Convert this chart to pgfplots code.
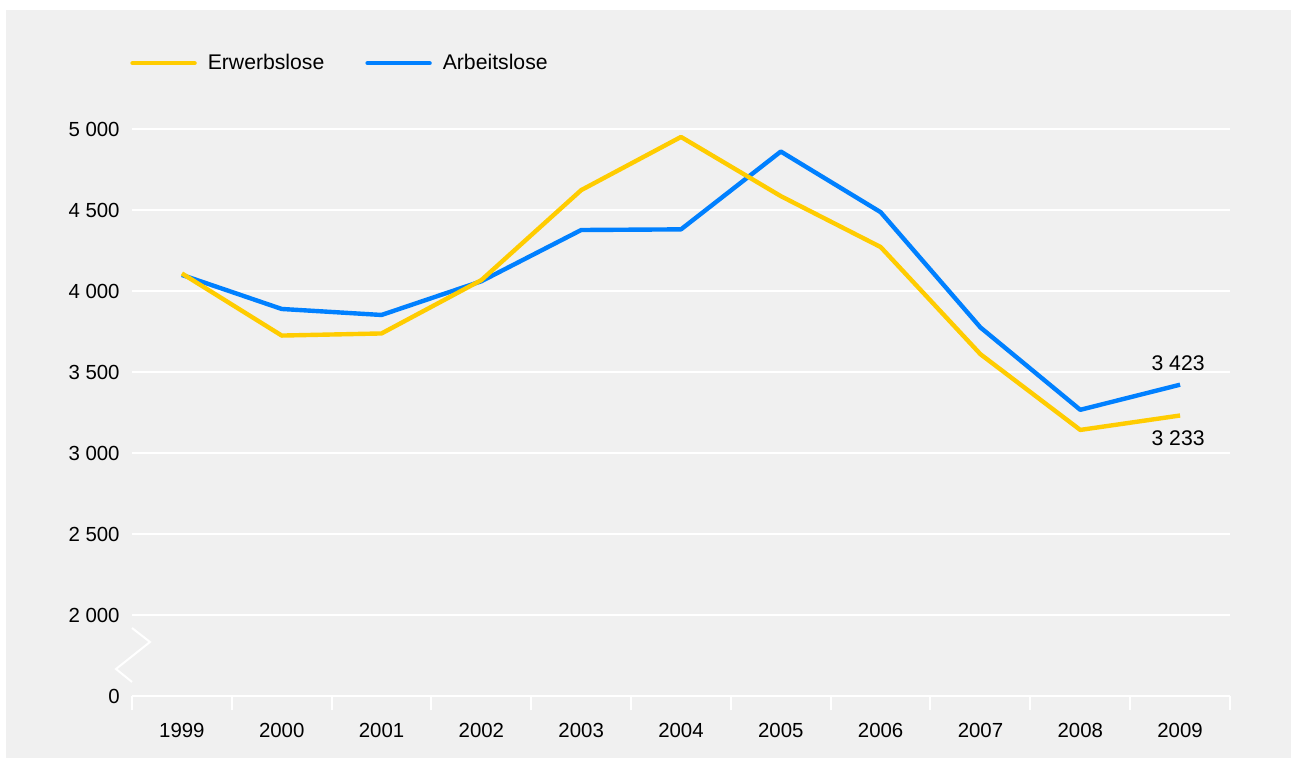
\documentclass[border=0pt]{standalone}
\usepackage{fontspec}
\setmainfont{Liberation Sans}
\usepackage{pgfplots}
\pgfplotsset{compat=1.18}

\definecolor{bggray}{HTML}{F0F0F0}
\definecolor{gelb}{HTML}{FFCC00}
\definecolor{blau}{HTML}{0080FF}
\newcommand{\lblfont}{\fontsize{10.2}{12}\selectfont}
\newcommand{\legfont}{\fontsize{10.6}{12}\selectfont}

\begin{document}
\begin{tikzpicture}
% page and panel (1 px = 0.5pt)
\fill[white] (0,0) rectangle (645.5pt,379pt);
\fill[bggray] (3pt,0pt) rectangle (645.5pt,374pt);

\begin{axis}[
    at={(66pt,30.75pt)}, anchor=south west,
    scale only axis,
    width=549pt, height=283.75pt,
    xmin=1998.5, xmax=2009.5,
    ymin=1500, ymax=5000,
    clip=false,
    axis x line=bottom, axis y line=left,
    x axis line style={-, white, line width=1pt},
    y axis line style={draw=none},
    xtick={1999,2000,2001,2002,2003,2004,2005,2006,2007,2008,2009},
    xticklabels={1999,2000,2001,2002,2003,2004,2005,2006,2007,2008,2009},
    minor xtick={1998.5,1999.5,...,2009.5},
    ytick={1500,2000,2500,3000,3500,4000,4500,5000},
    yticklabels={0,2~000,2~500,3~000,3~500,4~000,4~500,5~000},
    major tick length=0pt, minor tick length=7pt, tick align=outside,
    minor tick style={white, line width=1pt},
    ymajorgrids, grid style={white, line width=1pt},
    every tick label/.append style={font=\lblfont, black},
    xticklabel style={anchor=north, inner sep=0pt, yshift=-13pt},
    yticklabel style={anchor=east, inner sep=0pt, xshift=-6pt},
    legend columns=2,
    legend style={at={(axis description cs:-0.0015,1.116)}, anchor=west,
        draw=none, fill=none, inner sep=0pt, outer sep=0pt,
        nodes={inner sep=0pt, font=\legfont},
        /tikz/every odd column/.append style={column sep=5.5pt},
        /tikz/every even column/.append style={column sep=20.5pt}},
    legend image code/.code={\draw[#1, line cap=round] (0pt,0pt) -- (31pt,0pt);},
]
    \addlegendimage{gelb, line width=2.2pt}
    \addlegendentry{Erwerbslose}

    % Arbeitslose (in 1000)
    \addplot[blau, line width=2.2pt, line join=round] coordinates {
        (1999,4100) (2000,3890) (2001,3853) (2002,4061) (2003,4377) (2004,4381)
        (2005,4861) (2006,4487) (2007,3776) (2008,3268) (2009,3423)};
    \addlegendentry{Arbeitslose}

    % Erwerbslose (in 1000)
    \addplot[gelb, line width=2.2pt, line join=round, forget plot] coordinates {
        (1999,4109) (2000,3726) (2001,3739) (2002,4068) (2003,4623) (2004,4951)
        (2005,4586) (2006,4272) (2007,3611) (2008,3144) (2009,3233)};

    \node[font=\legfont] at (axis cs:2008.98,3556) {3~423};
    \node[font=\legfont] at (axis cs:2008.98,3093) {3~233};
\end{axis}

% axis break
\draw[white, line width=1pt] (66pt,65pt) -- (75pt,58pt) -- (58pt,44.5pt) -- (66pt,38pt);
\end{tikzpicture}
\end{document}
